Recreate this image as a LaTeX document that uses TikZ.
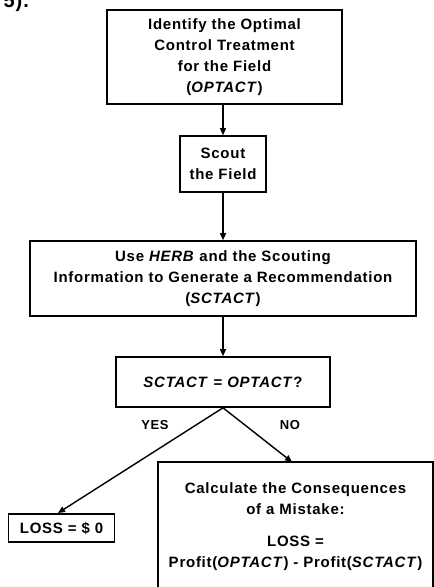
\documentclass[tikz,border=0pt]{standalone}
\usepackage{fontspec}
\setmainfont{Liberation Sans}[LetterSpace=5]
\usetikzlibrary{arrows.meta}
\begin{document}
\begin{tikzpicture}[x=1pt,y=-1pt,
  txt/.style={font=\bfseries\fontsize{15}{21}\selectfont},
  box/.style={draw, line width=1.6pt, align=center, inner sep=0pt, txt},
  lbl/.style={font=\bfseries\fontsize{13}{15}\selectfont},
  conn/.style={line width=1.4pt, -{Triangle[length=7pt,width=6pt]}}]
\useasboundingbox (0,0) rectangle (434,587);
\clip (0,0) rectangle (434,587);
\node[anchor=base west, font=\bfseries\fontsize{20}{20}\selectfont] (frag) at (0,7) {5).};
\node[box, minimum width=235pt, minimum height=94pt] (b1) at (224.5,57) {Identify the Optimal\\Control Treatment\\for the Field\\(\textit{OPTACT})};
\node[box, minimum width=86pt, minimum height=56pt] (b2) at (223,164) {Scout\\the Field};
\node[box, minimum width=386pt, minimum height=75pt] (b3) at (223,278.5) {Use \textit{HERB} and the Scouting\\Information to Generate a Recommendation\\(\textit{SCTACT})};
\node[box, minimum width=214pt, minimum height=50pt] (b4) at (223,382) {\textit{SCTACT} = \textit{OPTACT}?};
\node[box, minimum width=106pt, minimum height=28pt] (b5) at (61.5,528) {LOSS = \$ 0};
\draw[line width=1.6pt] (158,600) |- (433,462) -- (433,600);
\coordinate (b6top) at (292,462);
\node[align=center, txt, anchor=north] (b6a) at (295.5,479) {Calculate the Consequences\\of a Mistake:};
\node[align=center, txt, anchor=north] (b6b) at (295.5,532) {LOSS =\\Profit(\textit{OPTACT}) - Profit(\textit{SCTACT})};
\node[lbl] (yes) at (155,425) {YES};
\node[lbl] (no) at (290,425) {NO};
\draw[conn] (b2.north |- b1.south) -- (b2.north);
\draw[conn] (b2.south) -- (b3.north);
\draw[conn] (b3.south) -- (b4.north);
\draw[conn] (b4.south) -- (58,513);
\draw[conn] (b4.south) -- (b6top);
\end{tikzpicture}
\end{document}
